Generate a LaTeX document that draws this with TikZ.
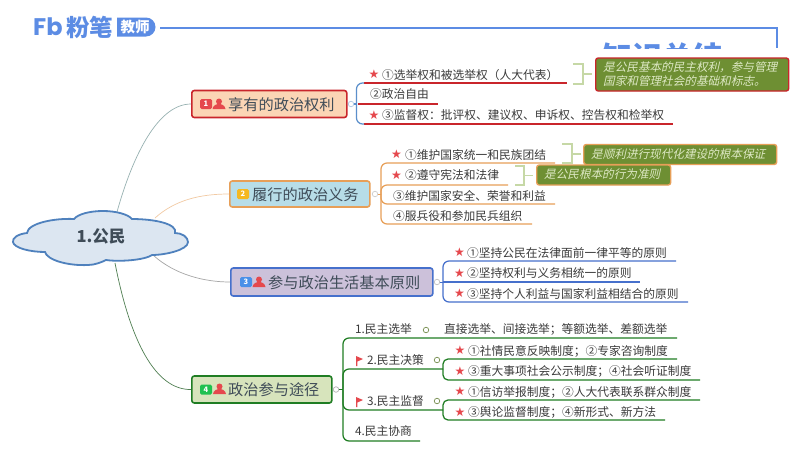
\documentclass[tikz,border=0pt]{standalone}
\usepackage{fontspec}
\setmainfont{Noto Sans CJK SC}
\newfontfamily\cjkit[FakeSlant=0.22]{Noto Sans CJK SC}
\newfontfamily\symf{DejaVu Sans}
\newfontfamily\logof{Poppins}
\definecolor{logoblue}{HTML}{5C8CE4}
\definecolor{txt}{HTML}{3A3A3A}
\definecolor{branchtxt}{HTML}{3F4C58}
\definecolor{redl}{HTML}{C9252B}
\definecolor{orl}{HTML}{E79F58}
\definecolor{bll}{HTML}{4670CC}
\definecolor{grl}{HTML}{1F7D23}
\definecolor{brace}{HTML}{C6D8A6}
\definecolor{olive}{HTML}{6E8F33}
\definecolor{notetxt}{HTML}{DDE8C4}
\definecolor{iconred}{HTML}{E5484D}
\definecolor{trunkblue}{HTML}{5B8FCB}
\usetikzlibrary{shapes.geometric}
\tikzset{
  itemtext/.style={anchor=west,inner sep=0pt,text=txt,font=\fontsize{11.75}{13}\selectfont},
  branchbox/.style={rounded corners=2.5pt,line width=1.6pt,anchor=west,minimum height=#1,inner sep=0pt},
  branchtext/.style={anchor=west,inner sep=0pt,text=branchtxt,font=\fontsize{15.2}{17}\selectfont},
  badge/.style={rounded corners=1.5pt,inner sep=0pt,minimum width=12pt,minimum height=10pt,text=white,font=\fontsize{7.5}{8}\selectfont\bfseries},
  junction/.style={circle,draw=#1,fill=white,line width=0.7pt,minimum size=5.5pt,inner sep=0pt},
  starmark/.style={inner sep=0pt,text=iconred,font=\symf\fontsize{12}{12}\selectfont},
  note/.style={rounded corners=2.5pt,line width=1.4pt,fill=olive,anchor=west,inner sep=0pt,text=notetxt},
  notetext/.style={anchor=west,inner sep=0pt,text=notetxt,text height=9pt,text depth=2pt,font=\cjkit\fontsize{11.6}{13}\selectfont},
  link/.style={line width=0.7pt},
  bracemark/.style={draw=brace,line width=1.6pt},
  uline/.style={line width=1.25pt,rounded corners=6pt}
}
\newcommand{\personicon}[2]{%
  \fill[iconred] (#1,#2-2.5) circle (3pt);
  \fill[iconred] (#1-6.5,#2+5) .. controls (#1-6,#2+1) and (#1-2,#2) .. (#1,#2) .. controls (#1+2,#2) and (#1+6,#2+1) .. (#1+6.5,#2+5) -- cycle;}
\newcommand{\flagicon}[2]{%
  \fill[iconred] (#1,#2-4) -- (#1+7,#2-1) -- (#1+1.4,#2+1.5) -- (#1+1.4,#2+6) -- (#1,#2+6) -- cycle;}
\newcommand{\itm}[4]{\node[itemtext] (#1) at (#2,#3) {#4};}
\newcommand{\str}[3]{\node[starmark] (#1) at (#2,#3) {★};}
\begin{document}
\begin{tikzpicture}[x=1pt,y=-1pt]
\useasboundingbox (0,0) rectangle (800,450);
\fill[white] (0,0) rectangle (800,450);
% header
\node[anchor=west,inner sep=0pt,text=logoblue,font=\logof\bfseries\fontsize{24}{24}\selectfont] (fb) at (33,27) {Fb};
\node[anchor=west,inner sep=0pt,text=logoblue,font=\bfseries\fontsize{23.5}{24}\selectfont] (fenbi) at (66,27) {粉笔};
\fill[logoblue] (117,17.5) -- (146,17.5) arc (-90:90:9.5) -- (117,36.5) -- cycle;
\node[inner sep=0pt,text=white,font=\bfseries\fontsize{14.5}{15}\selectfont] (jiaoshi) at (135,27) {教师};
\coordinate (hl1) at (160,28);
\coordinate (hl2) at (777,28);
\coordinate (hl3) at (777,48);
\draw[logoblue,line width=1.3pt] (hl1) -- (hl2) -- (hl3);
\begin{scope}
\clip (590,40) rectangle (740,48.5);
\node[inner sep=0pt,text=logoblue,font=\bfseries\fontsize{30}{30}\selectfont] (title) at (662,57) {知识总结};
\end{scope}
% central connectors and cloud
\coordinate (c1) at (117,212);
\coordinate (c2) at (155,218);
\coordinate (c3) at (153,255);
\coordinate (c4) at (115,263);
\node[branchbox=27pt,minimum width=155pt,draw=redl,fill={rgb,255:red,251;green,213;blue,181}] (b1) at (191,104) {};
\node[branchbox=26pt,minimum width=140pt,draw=orl,fill={rgb,255:red,183;green,221;blue,232}] (b2) at (229,194) {};
\node[branchbox=28pt,minimum width=202pt,draw=bll,fill={rgb,255:red,204;green,193;blue,218}] (b3) at (230,282) {};
\node[branchbox=27pt,minimum width=140pt,draw=grl,fill={rgb,255:red,215;green,228;blue,188}] (b4) at (191,389.5) {};
\draw[link,draw=teal!35!gray!60] (c1) .. controls (130,165) and (155,104) .. (b1.west);
\draw[link,draw=orl!55] (c2) .. controls (175,200) and (200,194) .. (b2.west);
\draw[link,draw=gray!70] (c3) .. controls (175,275) and (205,282) .. (b3.west);
\draw[link,draw=grl!50!gray] (c4) .. controls (130,340) and (155,390) .. (b4.west);
\draw[fill={rgb,255:red,220;green,230;blue,241},draw={rgb,255:red,79;green,129;blue,189},line width=1.8pt]
 (27,233) .. controls (18,234) and (12,238) .. (13,242)
 .. controls (14,248) and (30,252) .. (45,252)
 .. controls (47,260) and (68,266) .. (88,265)
 .. controls (95,265) and (102,262) .. (106,260)
 .. controls (120,262) and (145,260) .. (152,255)
 .. controls (165,255) and (188,250) .. (188,242)
 .. controls (188,237) and (182,233) .. (175,233)
 .. controls (178,224) and (155,219) .. (132,219)
 .. controls (128,214) and (115,211) .. (103,211)
 .. controls (90,211) and (78,214) .. (74,219)
 .. controls (55,218) and (28,223) .. (27,233) -- cycle;
\node[inner sep=0pt,text=branchtxt,font=\bfseries\fontsize{16.5}{18}\selectfont] (root) at (101,236.5) {1.公民};
% branch box contents
\node[badge,fill=iconred] (bd1) at (206,104) {1};
\personicon{219}{104}
\node[branchtext] (t1txt) at (228,104.5) {享有的政治权利};
\node[badge,fill={rgb,255:red,245;green,184;blue,32}] (bd2) at (243,194) {2};
\node[branchtext] (t2txt) at (252,194.5) {履行的政治义务};
\node[badge,fill={rgb,255:red,74;green,144;blue,232}] (bd3) at (246,282) {3};
\personicon{259}{282}
\node[branchtext] (t3txt) at (268,282.5) {参与政治生活基本原则};
\node[badge,fill={rgb,255:red,31;green,192;blue,80}] (bd4) at (206,389.5) {4};
\personicon{219.5}{389}
\node[branchtext] (t4txt) at (228,390) {政治参与途径};
% branch 1 items
\node[junction=trunkblue!50] (j1) at (351,104) {};
\coordinate (t1) at (356.5,104);
\coordinate (a1s) at (364,83); \coordinate (a1e) at (567,83);
\coordinate (a2s) at (358,104); \coordinate (a2e) at (438,104);
\coordinate (a3s) at (364,124); \coordinate (a3e) at (673,124);
\draw[redl,line width=1.25pt] (a1s) -- (a1e);
\draw[redl,line width=1.25pt] (a2s) -- (a2e);
\draw[redl,line width=1.25pt] (a3s) -- (a3e);
\draw[trunkblue,uline] (t1) |- (a1s);
\draw[trunkblue,uline] (t1) |- (a3s);
\draw[trunkblue,line width=1.25pt] (j1) -- (t1);
\str{s11}{374}{74.5}
\itm{a1}{382}{75}{①选举权和被选举权（人大代表）}
\itm{a2}{370}{94.5}{②政治自由}
\str{s13}{374}{115.5}
\itm{a3}{382}{115.5}{③监督权：批评权、建议权、申诉权、控告权和检举权}
% note 1
\draw[bracemark] (573,64) -- (583,64) -- (583,84) -- (573,84);
\draw[bracemark] (583,74) -- (592,74);
\node[note,draw=redl,minimum width=193pt,minimum height=33pt] (n1) at (595,74.5) {};
\node[notetext] (n1a) at (603,68) {是公民基本的民主权利，参与管理};
\node[notetext] (n1b) at (603,81.5) {国家和管理社会的基础和标志。};
% branch 2 items
\node[junction=gray!40] (j2) at (375,194) {};
\coordinate (t2) at (381,194);
\coordinate (b1e) at (555,163);
\coordinate (b2e) at (508,185);
\coordinate (b3e) at (555,204);
\coordinate (b4e) at (532,224);
\draw[orl,uline] (t2) |- (b1e);
\draw[orl,uline] (t2) |- (b2e);
\draw[orl,uline] (t2) |- (b3e);
\draw[orl,uline] (t2) |- (b4e);
\draw[orl,line width=1pt] (j2) -- (t2);
\str{s21}{396.5}{154.5}
\itm{i21}{405}{155}{①维护国家统一和民族团结}
\str{s22}{396.5}{175.5}
\itm{i22}{405}{175.5}{②遵守宪法和法律}
\itm{i23}{393}{196}{③维护国家安全、荣誉和利益}
\itm{i24}{393}{216}{④服兵役和参加民兵组织}
% notes 2,3
\draw[bracemark] (562,144) -- (572,144) -- (572,163) -- (562,163);
\draw[bracemark] (572,154) -- (581,154);
\node[note,draw=orl,minimum width=193pt,minimum height=20pt] (n2) at (583,154.5) {};
\node[notetext] (n2a) at (591,154.5) {是顺利进行现代化建设的根本保证};
\draw[bracemark] (515,166) -- (524,166) -- (524,185) -- (515,185);
\draw[bracemark] (524,175.5) -- (533,175.5);
\node[note,draw=orl,minimum width=134pt,minimum height=20pt] (n3) at (536,175) {};
\node[notetext] (n3a) at (544,175) {是公民根本的行为准则};
% branch 3 items
\node[junction=gray!50] (j3) at (437,282) {};
\coordinate (t3) at (443,282);
\coordinate (c1e) at (676,261);
\coordinate (c2e) at (640,282);
\coordinate (c3e) at (688,302);
\draw[bll,uline] (t3) |- (c1e);
\draw[bll,uline] (t3) -- (c2e);
\draw[bll,uline] (t3) |- (c3e);
\draw[bll,line width=1pt] (j3) -- (t3);
\str{s31}{459.5}{252.5}
\itm{i31}{467}{253}{①坚持公民在法律面前一律平等的原则}
\str{s32}{459.5}{273}
\itm{i32}{467}{273.5}{②坚持权利与义务相统一的原则}
\str{s33}{459.5}{293.5}
\itm{i33}{467}{294}{③坚持个人利益与国家利益相结合的原则}
% branch 4 items
\node[junction=gray!60] (j4) at (336,389.5) {};
\coordinate (t4) at (343,389.5);
\coordinate (d1e) at (677,338);
\coordinate (d2e) at (443,369);
\coordinate (d3e) at (443,410);
\coordinate (d4e) at (420,441);
\draw[grl,uline] (t4) |- (d1e);
\draw[grl,uline] (t4) |- (d2e);
\draw[grl,uline] (t4) |- (d3e);
\draw[grl,uline] (t4) |- (d4e);
\draw[grl,line width=1pt] (j4) -- (t4);
\itm{d1}{355}{329.5}{1.民主选举}
\node[junction=olive!70!gray] (j41) at (426,330) {};
\node[itemtext] (d1x) at (444,329.5) {直接选举、间接选举；等额选举、差额选举};
\flagicon{356}{360}
\itm{d2}{367}{360}{2.民主决策}
\node[junction=olive!70!gray] (j42) at (437,360) {};
\flagicon{356}{401}
\itm{d3}{367}{401}{3.民主监督}
\node[junction=olive!70!gray] (j43) at (437,401) {};
\itm{d4}{355}{431}{4.民主协商}
% sub brackets
\coordinate (e1e) at (677,359);
\coordinate (e2e) at (700,380);
\coordinate (f1e) at (700,400);
\coordinate (f2e) at (665,420);
\draw[grl,line width=1.25pt,rounded corners=5pt] (d2e) |- (e1e);
\draw[grl,line width=1.25pt,rounded corners=5pt] (d2e) |- (e2e);
\draw[grl,line width=1.25pt,rounded corners=5pt] (d3e) |- (f1e);
\draw[grl,line width=1.25pt,rounded corners=5pt] (d3e) |- (f2e);
\str{s41}{460}{350.5}
\itm{e1}{468}{351}{①社情民意反映制度；②专家咨询制度}
\str{s42}{460}{371}
\itm{e2}{468}{371.5}{③重大事项社会公示制度；④社会听证制度}
\str{s43}{460}{391.5}
\itm{f1}{468}{392}{①信访举报制度；②人大代表联系群众制度}
\str{s44}{460}{412}
\itm{f2}{468}{412.5}{③舆论监督制度；④新形式、新方法}
\end{tikzpicture}
\end{document}
